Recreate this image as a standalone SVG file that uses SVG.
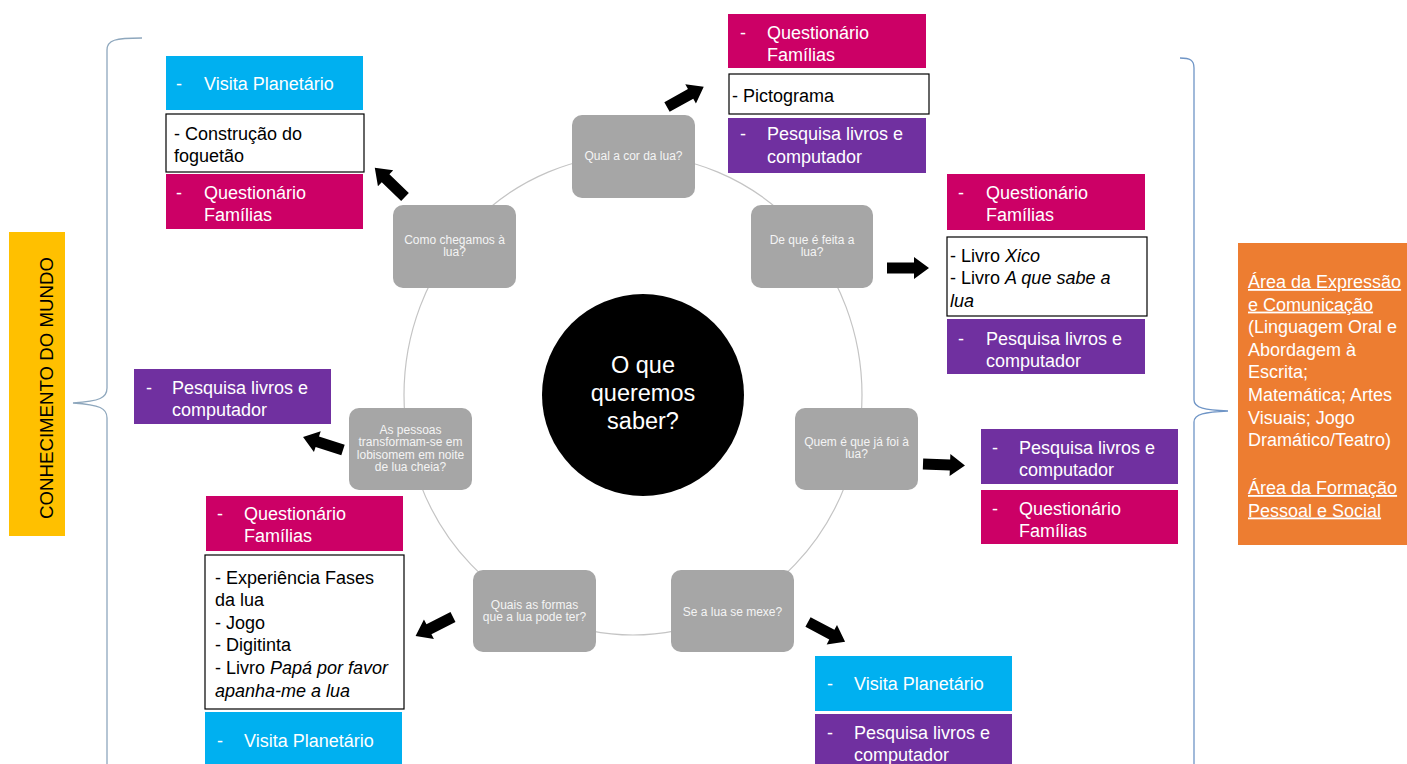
<svg xmlns="http://www.w3.org/2000/svg" xmlns:xlink="http://www.w3.org/1999/xlink" width="1407" height="764" viewBox="0 0 1407 764">
<defs>
<style>
text{font-family:"Liberation Sans",Arial,sans-serif}
.q{fill:#a6a6a6}
.qt{font-size:12px;fill:#f4f4f4;text-anchor:middle}
.bt{font-size:18px;fill:#ffffff}
.wt{font-size:18px;fill:#000000}
.mag{fill:#cc0066}
.cya{fill:#00b0f0}
.pur{fill:#7030a0}
.wht{fill:#ffffff;stroke:#000000;stroke-width:1.2}
.brace{fill:none;stroke-width:1.3}
.it{font-style:italic}
.ul{text-decoration:underline}
</style>
<path id="arr" d="M0,-5.5 H27 V-11 L42,0 L27,11 V5.5 H0 Z" fill="#000000"/>
</defs>
<rect width="1407" height="764" fill="#ffffff"/>

<g id="braces">
<path class="brace" stroke="#8ea7bd" d="M142,38 C115,38 107,40 107,50 V388 C107,398 100,401 73,403 C100,405 107,408 107,418 V770"/>
<path class="brace" stroke="#6f95c6" d="M1180,58 C1190,58 1194,60 1194,68 V400 C1194,408 1205,410 1228,411 C1205,412 1194,414 1194,422 V770"/>
</g>

<g id="cycle">
<ellipse cx="633" cy="395" rx="229" ry="240" fill="none" stroke="#c4c4c4" stroke-width="1.2"/>
</g>

<g id="connectors">
<use xlink:href="#arr" transform="translate(405,197) rotate(224)"/>
<use xlink:href="#arr" transform="translate(667,107) rotate(-29)"/>
<use xlink:href="#arr" transform="translate(887,268)"/>
<use xlink:href="#arr" transform="translate(923,464) rotate(2)"/>
<use xlink:href="#arr" transform="translate(808,622) rotate(28)"/>
<use xlink:href="#arr" transform="translate(453,617) rotate(153)"/>
<use xlink:href="#arr" transform="translate(343,450) rotate(198)"/>
</g>

<g id="center">
<circle cx="643" cy="395" r="101" fill="#000000"/>
<text x="643" y="373" font-size="23.5" fill="#ffffff" text-anchor="middle">O que</text>
<text x="643" y="401" font-size="23.5" fill="#ffffff" text-anchor="middle">queremos</text>
<text x="643" y="429" font-size="23.5" fill="#ffffff" text-anchor="middle">saber?</text>
</g>

<g id="q-cor">
<rect class="q" x="572" y="115" width="123" height="83" rx="10"/>
<text class="qt" x="633.5" y="160">Qual a cor da lua?</text>
</g>
<g id="q-feita">
<rect class="q" x="751" y="205" width="122" height="83" rx="10"/>
<text class="qt" x="812" y="244">De que é feita a</text>
<text class="qt" x="812" y="256">lua?</text>
</g>
<g id="q-quem">
<rect class="q" x="795" y="408" width="123" height="82" rx="10"/>
<text class="qt" x="856.5" y="446">Quem é que já foi à</text>
<text class="qt" x="856.5" y="458">lua?</text>
</g>
<g id="q-mexe">
<rect class="q" x="671" y="570" width="123" height="82" rx="10"/>
<text class="qt" x="732.5" y="616">Se a lua se mexe?</text>
</g>
<g id="q-formas">
<rect class="q" x="473" y="570" width="123" height="82" rx="10"/>
<text class="qt" x="534.5" y="609">Quais as formas</text>
<text class="qt" x="534.5" y="621">que a lua pode ter?</text>
</g>
<g id="q-lobisomem">
<rect class="q" x="349" y="408" width="123" height="82" rx="10"/>
<text class="qt" x="410.5" y="433.5">As pessoas</text>
<text class="qt" x="410.5" y="446">transformam-se em</text>
<text class="qt" x="410.5" y="458.5">lobisomem em noite</text>
<text class="qt" x="410.5" y="471">de lua cheia?</text>
</g>
<g id="q-chegamos">
<rect class="q" x="393" y="205" width="123" height="83" rx="10"/>
<text class="qt" x="454.5" y="244">Como chegamos à</text>
<text class="qt" x="454.5" y="256">lua?</text>
</g>

<g id="grp-topleft">
<rect class="cya" x="166" y="56" width="197" height="54"/>
<text class="bt" x="176" y="89.5">-</text><text class="bt" x="204" y="89.5">Visita Planetário</text>
<rect class="wht" x="166" y="114" width="198" height="58"/>
<text class="wt" x="174" y="139.5">- Construção do</text>
<text class="wt" x="174" y="162">foguetão</text>
<rect class="mag" x="166" y="174" width="197" height="55"/>
<text class="bt" x="176" y="198.5">-</text><text class="bt" x="204" y="198.5">Questionário</text>
<text class="bt" x="204" y="221">Famílias</text>
</g>

<g id="grp-top">
<rect class="mag" x="728" y="14" width="198" height="54"/>
<text class="bt" x="740" y="38.5">-</text><text class="bt" x="767" y="38.5">Questionário</text>
<text class="bt" x="767" y="61">Famílias</text>
<rect class="wht" x="729" y="74" width="200" height="40"/>
<text class="wt" x="732" y="101.5">- Pictograma</text>
<rect class="pur" x="728" y="118" width="198" height="55"/>
<text class="bt" x="740" y="140">-</text><text class="bt" x="767" y="140">Pesquisa livros e</text>
<text class="bt" x="767" y="163">computador</text>
</g>

<g id="grp-right-top">
<rect class="mag" x="947" y="174" width="198" height="56"/>
<text class="bt" x="958" y="198.5">-</text><text class="bt" x="986" y="198.5">Questionário</text>
<text class="bt" x="986" y="221">Famílias</text>
<rect class="wht" x="947" y="237" width="200" height="79"/>
<text class="wt" x="950" y="261.5">- Livro <tspan class="it">Xico</tspan></text>
<text class="wt" x="950" y="284">- Livro <tspan class="it">A que sabe a</tspan></text>
<text class="wt it" x="950" y="306.5">lua</text>
<rect class="pur" x="947" y="319" width="198" height="55"/>
<text class="bt" x="958" y="344.5">-</text><text class="bt" x="986" y="344.5">Pesquisa livros e</text>
<text class="bt" x="986" y="367">computador</text>
</g>

<g id="grp-right-mid">
<rect class="pur" x="981" y="429" width="197" height="55"/>
<text class="bt" x="992" y="453.5">-</text><text class="bt" x="1019" y="453.5">Pesquisa livros e</text>
<text class="bt" x="1019" y="476">computador</text>
<rect class="mag" x="981" y="490" width="197" height="54"/>
<text class="bt" x="992" y="514.5">-</text><text class="bt" x="1019" y="514.5">Questionário</text>
<text class="bt" x="1019" y="537">Famílias</text>
</g>

<g id="grp-bottom-right">
<rect class="cya" x="815" y="656" width="197" height="55"/>
<text class="bt" x="827" y="690">-</text><text class="bt" x="854" y="690">Visita Planetário</text>
<rect class="pur" x="815" y="714" width="197" height="60"/>
<text class="bt" x="827" y="738.5">-</text><text class="bt" x="854" y="738.5">Pesquisa livros e</text>
<text class="bt" x="854" y="761">computador</text>
</g>

<g id="grp-bottom-left">
<rect class="mag" x="206" y="496" width="197" height="55"/>
<text class="bt" x="217" y="519.5">-</text><text class="bt" x="244" y="519.5">Questionário</text>
<text class="bt" x="244" y="542">Famílias</text>
<rect class="wht" x="205" y="555" width="199" height="154"/>
<text class="wt" x="215" y="583.5">- Experiência Fases</text>
<text class="wt" x="215" y="606">da lua</text>
<text class="wt" x="215" y="628.5">- Jogo</text>
<text class="wt" x="215" y="651">- Digitinta</text>
<text class="wt" x="215" y="674">- Livro <tspan class="it">Papá por favor</tspan></text>
<text class="wt it" x="215" y="697">apanha-me a lua</text>
<rect class="cya" x="205" y="712" width="197" height="60"/>
<text class="bt" x="217" y="746.5">-</text><text class="bt" x="244" y="746.5">Visita Planetário</text>
</g>

<g id="grp-left-mid">
<rect class="pur" x="134" y="369" width="197" height="55"/>
<text class="bt" x="146" y="393.5">-</text><text class="bt" x="172" y="393.5">Pesquisa livros e</text>
<text class="bt" x="172" y="415.5">computador</text>
</g>

<g id="label-left">
<rect x="9" y="232" width="56" height="304" fill="#ffc000"/>
<text x="0" y="0" font-size="18.5" fill="#000000" text-anchor="middle" transform="translate(53,388) rotate(-90)" textLength="262" lengthAdjust="spacingAndGlyphs">CONHECIMENTO DO MUNDO</text>
</g>

<g id="label-right">
<rect x="1238" y="243" width="175" height="302" fill="#ed7d31"/>
<text class="bt" x="1248" y="288"><tspan class="ul">Área da Expressão</tspan></text>
<text class="bt" x="1248" y="310.6"><tspan class="ul">e Comunicação</tspan></text>
<text class="bt" x="1248" y="333.2">(Linguagem Oral e</text>
<text class="bt" x="1248" y="355.8">Abordagem à</text>
<text class="bt" x="1248" y="378.4">Escrita;</text>
<text class="bt" x="1248" y="401">Matemática; Artes</text>
<text class="bt" x="1248" y="423.6">Visuais; Jogo</text>
<text class="bt" x="1248" y="446.2">Dramático/Teatro)</text>
<text class="bt" x="1248" y="494"><tspan class="ul">Área da Formação</tspan></text>
<text class="bt" x="1248" y="516.5"><tspan class="ul">Pessoal e Social</tspan></text>
</g>
</svg>
